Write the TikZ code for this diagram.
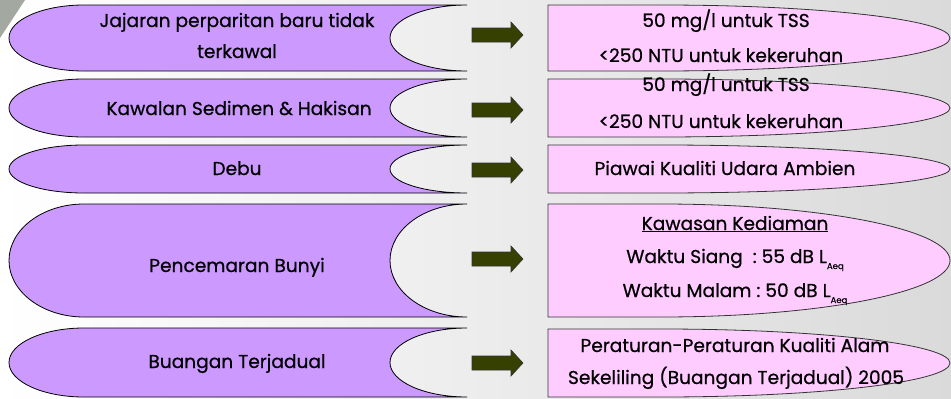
\documentclass[tikz,border=0pt]{standalone}
\usepackage{fontspec}
\setmainfont{Poppins}[FakeBold=0.6]
\definecolor{bgR}{RGB}{218,218,218}
\definecolor{lilac}{RGB}{204,153,255}
\definecolor{pinkbox}{RGB}{255,204,255}
\definecolor{olive}{RGB}{54,64,0}
\definecolor{corner}{RGB}{163,168,160}
\tikzset{
  lshape/.style={fill=lilac,draw=black,line width=0.8pt},
  rshape/.style={fill=pinkbox,draw=black!80,line width=0.8pt},
  blockarrow/.style={fill=olive,draw=black!80,line width=0.6pt},
  txt/.style={font=\fontsize{18.6}{22}\selectfont,anchor=base,inner sep=0pt}
}
\newcommand{\leftshape}[2]{% top, bottom
  \pgfmathsetmacro{\mm}{(#1+#2)/2}\pgfmathsetmacro{\hh}{(#2-#1)/2}
  \pgfmathsetmacro{\ka}{\mm-0.5523*\hh}\pgfmathsetmacro{\kb}{\mm+0.5523*\hh}
  \draw[lshape] (84,#1) -- (467,#1) .. controls (424.5,#1) and (390,\ka) .. (390,\mm)
    .. controls (390,\kb) and (424.5,#2) .. (467,#2) -- (84,#2)
    .. controls (42.6,#2) and (9,\kb) .. (9,\mm) .. controls (9,\ka) and (42.6,#1) .. (84,#1) -- cycle;
}
\newcommand{\rightshape}[2]{%
  \pgfmathsetmacro{\mm}{(#1+#2)/2}\pgfmathsetmacro{\hh}{(#2-#1)/2}
  \pgfmathsetmacro{\ka}{\mm-0.5523*\hh}\pgfmathsetmacro{\kb}{\mm+0.5523*\hh}
  \draw[rshape] (548,#1) -- (661,#1) .. controls (821,#1) and (950,\ka) .. (950,\mm)
    .. controls (950,\kb) and (821,#2) .. (661,#2) -- (548,#2) -- cycle;
}
\newcommand{\blockarr}[1]{%
  \draw[blockarrow] (472,#1-7) -- (511,#1-7) -- (511,#1-13) -- (523,#1) -- (511,#1+13)
    -- (511,#1+7) -- (472,#1+7) -- cycle;
}
\newcommand{\aeq}{\raisebox{-6pt}{\fontsize{8.5}{9}\selectfont Aeq}}
\begin{document}
\begin{tikzpicture}[x=1pt,y=-1pt]
\useasboundingbox (0,0) rectangle (951,399);
\shade[left color=white,right color=bgR] (0,0) rectangle (951,399);
\fill[corner] (0,0) -- (25,0) -- (0,38) -- cycle;

\leftshape{5}{71}
\leftshape{79}{137}
\leftshape{145}{193}
\leftshape{204}{317}
\leftshape{328}{397}

\rightshape{5}{71}
\rightshape{79}{137}
\rightshape{145}{193}
\rightshape{204}{317}
\rightshape{329}{397}

\blockarr{35}
\blockarr{110}
\blockarr{170}
\blockarr{259}
\blockarr{363}

\node[txt] (l1a) at (237,27) {Jajaran perparitan baru tidak};
\node[txt] (l1b) at (237,58) {terkawal};
\node[txt] (l2) at (239,115) {Kawalan Sedimen \& Hakisan};
\node[txt] (l3) at (237,175) {Debu};
\node[txt] (l4) at (237,272) {Pencemaran Bunyi};
\node[txt] (l5) at (237,368) {Buangan Terjadual};

\node[txt] (r1a) at (726,27) {50 mg/l untuk TSS};
\node[txt] (r1b) at (721,62) {<250 NTU untuk kekeruhan};
\node[txt] (r2a) at (726,91) {50 mg/l untuk TSS};
\node[txt] (r2b) at (721,128) {<250 NTU untuk kekeruhan};
\node[txt] (r3) at (725,175) {Piawai Kualiti Udara Ambien};
\node[txt] (r4a) at (735,230) {\underline{Kawasan Kediaman}};
\node[txt] (r4b) at (735,263) {Waktu Siang\ \ :\ 55 dB L\aeq};
\node[txt] (r4c) at (735,297) {Waktu Malam :\ 50 dB L\aeq};
\node[txt] (r5a) at (735,352) {Peraturan-Peraturan Kualiti Alam};
\node[txt] (r5b) at (736,384) {Sekeliling (Buangan Terjadual) 2005};
\end{tikzpicture}
\end{document}
